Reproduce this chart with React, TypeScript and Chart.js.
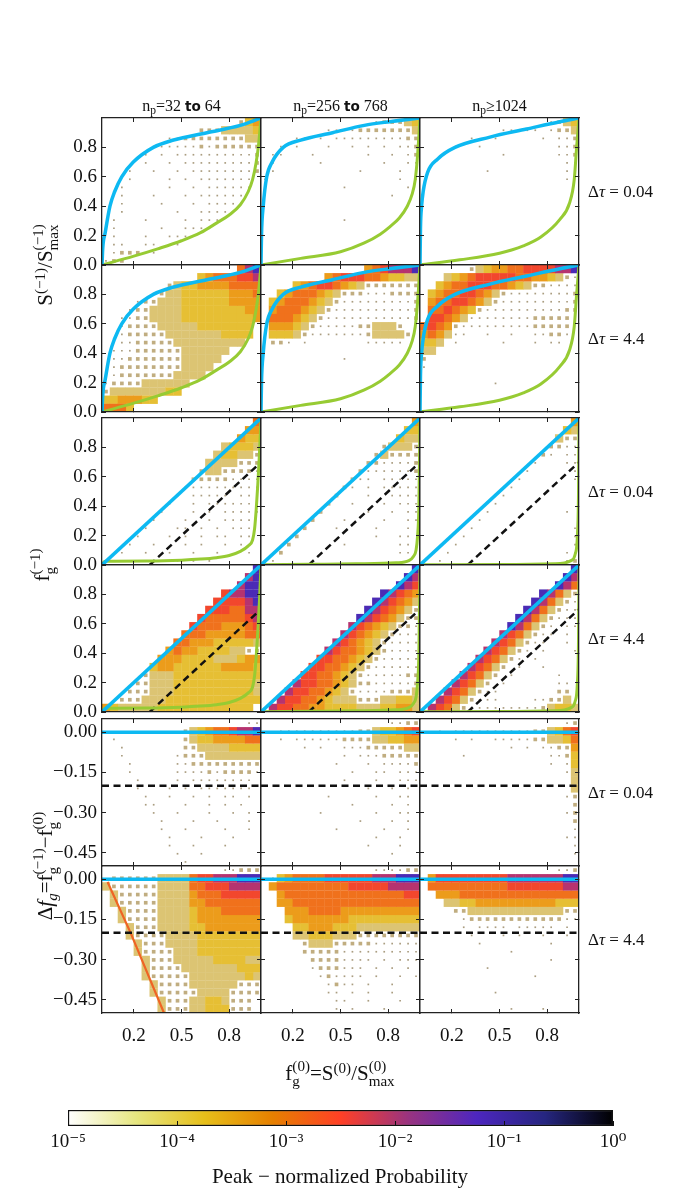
import React, { useEffect, useRef } from "react";
import { Chart, registerables } from "chart.js";

Chart.register(...registerables);

type Pt = [number, number];

// ---------- ticks ----------
const xTicks = [0.2, 0.5, 0.8];
const fracTicks = [0, 0.2, 0.4, 0.6, 0.8];
const dfTicks = [0, -0.15, -0.3, -0.45];
const cbTicks = [1e-5, 1e-4, 1e-3, 1e-2, 1e-1, 1];
const cbLabels = ["10⁻⁵", "10⁻⁴", "10⁻³", "10⁻²", "10⁻¹", "10⁰"];
const dtValues = ["0.04", "4.4"];

// ---------- envelope curves ----------
const blueS32: Pt[] = [[0, 0], [0.005, 0.12], [0.02, 0.22], [0.05, 0.4], [0.08, 0.5], [0.124, 0.6], [0.197, 0.7], [0.323, 0.8], [0.45, 0.85], [0.66, 0.9], [0.87, 0.95], [1, 1]];
const blueS256: Pt[] = [[0, 0], [0.003, 0.2], [0.014, 0.4], [0.036, 0.6], [0.07, 0.7], [0.14, 0.8], [0.25, 0.85], [0.45, 0.9], [0.65, 0.95], [0.81, 0.975], [1, 1]];
const blueS1024: Pt[] = [[0, 0], [0.003, 0.25], [0.01, 0.4], [0.02, 0.5], [0.048, 0.63], [0.11, 0.72], [0.22, 0.8], [0.44, 0.87], [0.67, 0.925], [0.88, 0.975], [1, 1]];
const greenS32: Pt[] = [[0, 0], [0.2, 0.06], [0.35, 0.11], [0.5, 0.165], [0.62, 0.22], [0.72, 0.285], [0.8, 0.34], [0.87, 0.41], [0.92, 0.5], [0.947, 0.58], [0.97, 0.7], [0.985, 0.82], [1, 1]];
const greenS256: Pt[] = [[0, 0], [0.25, 0.045], [0.5, 0.09], [0.65, 0.15], [0.75, 0.21], [0.81, 0.26], [0.87, 0.32], [0.92, 0.4], [0.95, 0.48], [0.97, 0.58], [0.985, 0.75], [1, 1]];
const greenS1024: Pt[] = [[0, 0], [0.25, 0.035], [0.5, 0.08], [0.65, 0.13], [0.76, 0.19], [0.88, 0.31], [0.94, 0.42], [0.97, 0.58], [0.985, 0.8], [1, 1]];
const greenF32: Pt[] = [[0, 0.005], [0.02, 0.025], [0.3, 0.028], [0.5, 0.033], [0.62, 0.04], [0.72, 0.05], [0.8, 0.065], [0.87, 0.093], [0.92, 0.13], [0.947, 0.17], [0.96, 0.25], [0.97, 0.38], [0.98, 0.55], [0.99, 0.75], [1, 1]];
const greenF256: Pt[] = [[0, 0.002], [0.3, 0.005], [0.6, 0.008], [0.85, 0.015], [0.93, 0.03], [0.96, 0.06], [0.975, 0.1], [0.985, 0.2], [0.993, 0.4], [1, 1]];
const greenF1024: Pt[] = [[0, 0.001], [0.5, 0.003], [0.85, 0.008], [0.95, 0.03], [0.975, 0.07], [0.99, 0.2], [0.997, 0.5], [1, 1]];
const diagF: Pt[] = [[0, 0], [1, 1]];
const dashF: Pt[] = [[0.3, 0], [1, 0.7]];
const zeroDf: Pt[] = [[0, 0], [1, 0]];
const cutDf: Pt[] = [[0, -0.2], [1, -0.2]];
// dense ridge along the lower-left edge of the np=32-64, Δτ=4.4 cloud
const ridgeD44_32: Pt[] = [[0.035, -0.01], [0.18, -0.2], [0.39, -0.5]];

// ---------- point density, 20 x-bins by 18 y-bins, top row first ----------
// '.' empty, 1-2 sparse tan dots, 3 dense tan, 4 yellow ... 9 blue-purple
const densS04_32 = [
  "..... ..... ..... ..245",
  "..... ..... ..222 33334",
  "..... ...11 22222 22233",
  "..... .1111 11212 22222",
  "..... 1.1.1 11111 11112",
  "..... 1..1. 11111 11112",
  "...1. .1..1 .1111 11112",
  "...1. ...1. 1.111 1111.",
  "..1.. ...1. .1.11 1111.",
  "..1.. .1... 1.111 111..",
  "..1.. ..1.. .1.11 11...",
  "..1.. ....1 ..111 1....",
  ".1... 1.... 1.111 .....",
  ".1... ..1.. 1111. .....",
  ".1... 1..11 1.... .....",
  ".11.. 11..1 ..... .....",
  ".1222 .1... ..... .....",
  "122.. ..... ..... .....",
];
const densS44_32 = [
  "..... ..... ..... ..689",
  "..... ..... ..456 66778",
  "..... ...23 44555 56666",
  "..... .1233 44444 45556",
  "....1 22333 44444 45555",
  "...12 23333 44444 44455",
  "..112 23333 44444 44445",
  "..122 22333 33444 4444.",
  "..122 22233 33333 4444.",
  "..112 22223 33333 333..",
  ".1112 22222 33333 3....",
  ".1122 22222 33333 .....",
  ".1222 22222 3333. .....",
  ".1222 22223 333.. .....",
  "12222 33333 3.... .....",
  "23333 33344 ..... .....",
  "44555 44... ..... .....",
  "6664. ..... ..... .....",
];
const densS04_256 = [
  "..... ..... ....1 22234",
  "..... ...11 11222 22223",
  "....1 1.1.1 11111 11122",
  "..1.1 ...1. .1.1. 1.112",
  ".11.. .1... ...1. .1.12",
  ".1... ..1.. ..... 1..11",
  ".1... ..... ..1.. ..1.1",
  "1.... ..... ..... ..1.1",
  "..... ..... 1.... ...1.",
  "..... ..... ..... .1...",
  "..... ..... ..... .....",
  "..... ..... ..... .....",
  "..... ..... 1.... .....",
  "..... ..... ..... .....",
  "..... ..... ..... .....",
  "..... ..... ..... .....",
  "..... ..... ..... .....",
  "..... ..... ..... .....",
];
const densS44_256 = [
  "..... ..... ...56 78889",
  "..... ...56 77766 54433",
  "....4 56776 54322 22222",
  "..456 66543 22211 12222",
  ".4566 65432 11111 11112",
  ".5666 54321 11111 11112",
  ".6665 43211 11111 11112",
  ".5554 32111 11223 332..",
  ".4443 21111 11123 3332.",
  ".221. 1.... ...11 111..",
  "..... ..... ..... .....",
  "..... ..... 1.... .....",
  "..... ..... ..... .....",
  "..... ..... ..... .....",
  "..... ..... ..... .....",
  "..... ..... ..... .....",
  "..... ..... ..... .....",
  "..... ..... ..... .....",
];
const densS04_1024 = [
  "..... ..... ..... .1234",
  "..... ..... 11.11 .1223",
  "..... .1..1 ..... 1.112",
  "....1 ..1.. ..... ..112",
  "..... ..... 1.... ..112",
  "..... ..... ..... ...11",
  "..... ...1. ..... ...11",
  "..... ..... ..... ...1.",
  "..... ..... ..... .....",
  "..... ..... ..... .....",
  "..... ..... ..... .....",
  "..... ..... ..... .....",
  "..... ..... ..... .....",
  "..... ..... ..... .....",
  "..... ..... ..... .....",
  "..... ..... ..... .....",
  "..... ..... ..... .....",
  "..... ..... ..... .....",
];
const densS44_1024 = [
  "..... .2345 56677 77889",
  "...34 56777 77665 54321",
  "..456 67776 65432 21111",
  ".4566 77653 21111 11112",
  ".5667 76532 11111 11112",
  ".6676 54211 11111 11122",
  ".7765 31111 11112 22221",
  "67652 11111 11112 2222.",
  "56531 1..1. .1..1 1221.",
  "443.1 ..... 1...1 .11..",
  "33... ..... ..... .....",
  "2.... ..... ..... .....",
  "1.... ..... ..... .....",
  "..... ..... ..... .....",
  "..... ....1 ..... .....",
  "..... ..... ..... .....",
  "..... ..... ..... .....",
  "..... ..... ..... .....",
];
const densF04_32 = [
  "..... ..... ..... ....6",
  "..... ..... ..... ...55",
  "..... ..... ..... ..544",
  "..... ..... ..... 34443",
  "..... ..... ....3 44332",
  "..... ..... ...33 33222",
  "..... ..... ..233 22221",
  "..... ..... .2222 21111",
  "..... ..... 11111 11111",
  "..... ....1 .1111 1.111",
  "..... ...1. .1.11 11111",
  "..... ..1.. .1.1. 11111",
  "..... .1... 1..1. 1111.",
  "..... 1...1 1.1.1 .111.",
  "....1 ...1. 1.1.1 1.11.",
  "...1. .1... 1.1.. 1.11.",
  "..1.. 1..1. .1..1 ...1.",
  ".1.1. 1.1.1 .1.1. .....",
];
const densF44_32 = [
  "..... ..... ..... ....9",
  "..... ..... ..... ...89",
  "..... ..... ..... ..899",
  "..... ..... ..... 78899",
  "..... ..... ....7 77789",
  "..... ..... ...77 76688",
  "..... ..... ..766 66678",
  "..... ..... .7666 55567",
  "..... ..... 66655 55566",
  "..... ....6 65554 44443",
  "..... ...56 55444 43322",
  "..... ..555 44443 33455",
  "..... .4554 44444 55554",
  "..... 23334 44444 44444",
  "....2 23334 44444 44443",
  "...22 23334 44444 44443",
  "..222 33344 44444 44444",
  "54333 33444 44444 4444.",
];
const densF04_256 = [
  "..... ..... ..... ....5",
  "..... ..... ..... ...44",
  "..... ..... ..... ..433",
  "..... ..... ..... 23332",
  "..... ..... ....2 32222",
  "..... ..... ...22 11112",
  "..... ..... ..211 11112",
  "..... ..... .211. 11111",
  "..... ..... 21.1. 11111",
  "..... ....2 ...1. .1111",
  "..... ...2. .1... 1.111",
  "..... ..2.. ...1. .1.11",
  "..... .2... 1.... 1..11",
  "..... 2...1 ....1 ...1.",
  "....2 ..... ....1 ..11.",
  "...2. ..... 1.... ..11.",
  "..2.. ..... ..... ..11.",
  ".1... ..... ..... ...1.",
];
const densF44_256 = [
  "..... ..... ..... ....9",
  "..... ..... ..... ...98",
  "..... ..... ..... ..987",
  "..... ..... ..... 98765",
  "..... ..... ....9 87653",
  "..... ..... ...98 76532",
  "..... ..... ..987 65322",
  "..... ..... .8765 43221",
  "..... ..... 87654 32111",
  "..... ....8 76543 21111",
  "..... ...87 66543 21111",
  "..... ..776 65432 11111",
  "..... .7766 54321 11111",
  "..... 77665 43211 11122",
  "....8 77665 43221 11112",
  "...87 76654 32111 12223",
  "..877 66543 33222 33443",
  ".8776 65544 44333 44553",
];
const densF04_1024 = [
  "..... ..... ..... ....5",
  "..... ..... ..... ...43",
  "..... ..... ..... ..322",
  "..... ..... ..... .2211",
  "..... ..... ..... 21.11",
  "..... ..... ....1 ...11",
  "..... ..... ...1. ....1",
  "..... ..... ..1.. ....1",
  "..... ..... .1... .....",
  "..... ..... 1.... .....",
  "..... ....1 ..... .....",
  "..... ...1. ..... ...1.",
  "..... ..1.. ..... .....",
  "..... .1... ..... ....1",
  "..... 1.... ..... ....1",
  "....1 ..... ..... ....1",
  "...1. ..... ..... ...11",
  "..1.. ..... ..... ...12",
];
const densF44_1024 = [
  "..... ..... ..... ....9",
  "..... ..... ..... ...98",
  "..... ..... ..... ..986",
  "..... ..... ..... 98632",
  "..... ..... ....9 86321",
  "..... ..... ...98 63211",
  "..... ..... ..986 32111",
  "..... ..... .9863 21.11",
  "..... ..... 87632 11.1.",
  "..... ....8 76321 1..1.",
  "..... ...87 6321. 1...1",
  "..... ..876 321.1 .....",
  "..... .8763 2.1.. 1....",
  "..... 87632 .1... ..1..",
  "....8 7632. 1.... ..11.",
  "...87 63211 ..... ..22.",
  "..876 32111 ....1 1223.",
  ".8763 21111 11111 23443",
];
const densD04_32 = [
  "..... ..... ..... ...11",
  "..... ..... 23456 67889",
  ".1... ..... 23445 55566",
  "..1.. ..... 22333 34444",
  "..1.. ....1 22233 33333",
  "...1. ....1 12222 22222",
  "...1. ....1 11121 22221",
  "....1 ....1 .1111 1111.",
  "....1 ...1. 1.111 1111.",
  "..... 1..1. .1.1. 11.1.",
  "..... 11... 1..1. 1.1..",
  "..... .1..1 ...1. .1.1.",
  "..... ..1.. .1..1 ...1.",
  "..... ..1.. 1.... 1..1.",
  "..... ...1. ..1.. .1...",
  "..... ...1. .1... 1....",
  "..... ....1 ..1.. .....",
  "..... ..... 1.... .....",
];
const densD44_32 = [
  "..... ..... ..... 11222",
  ".2222 22333 36778 88999",
  "32222 22333 36677 78888",
  ".3222 22333 35666 77777",
  ".3222 22333 35566 66666",
  "..322 22333 34555 66666",
  "..322 22333 34555 55555",
  "...32 22333 34455 55555",
  "...32 22233 33444 44444",
  "....3 22233 33444 44444",
  "....3 22223 33444 44444",
  "..... 32223 33334 44433",
  "..... 32222 33333 33444",
  "..... 32222 23333 33343",
  "..... .3222 23333 33222",
  "..... .3222 22333 32222",
  "..... ..322 23344 3222.",
  "..... ..322 23344 4222.",
];
const densD04_256 = [
  "..... ..... ..... .1122",
  "..111 11111 11223 44567",
  "..1.1 11111 22223 34455",
  "..... 1.1.. 11122 22233",
  "..... ..... 1.111 22222",
  "..... ....1 ...1. 11112",
  "..... ..... .1..1 1.111",
  "..... ..... 1...1 ..111",
  "..... ..... ...1. .1.1.",
  "..... ...1. ....1 ..11.",
  "..... ..... .1... .1.1.",
  "..... ..1.. ....1 ..11.",
  "..... ..... ..1.. .1.1.",
  "..... ....1 ..... 1..1.",
  "..... ..... ....1 ..1..",
  "..... ..... ...1. ..1..",
  "..... ..... ..... .1...",
  "..... ..... ..... .....",
];
const densD44_256 = [
  "..... ..... ....1 11122",
  ".1456 66677 77778 88999",
  ".5666 66666 67777 78888",
  "..566 66666 66666 66677",
  "..556 66666 66666 66666",
  "...55 56666 55555 55555",
  "...45 55555 54444 44444",
  "....4 45554 44333 33333",
  "....3 34443 33222 22222",
  "..... 23332 22221 11111",
  "..... 22222 11111 11111",
  "..... .2222 1111. 1.111",
  "..... .1222 111.1 .1.1.",
  "..... ..121 111.1 ..1.1",
  "..... ...12 11.1. .1...",
  "..... ...11 .1.1. .1...",
  "..... ....1 1..1. ..1..",
  "..... ....1 .1... 1....",
];
const densD04_1024 = [
  "..... ..... ..... ...12",
  "..1.1 11111 11112 23467",
  "....1 .1..1 11112 23346",
  "..... ..... .1.1. 11225",
  "..... 1.... ..... .1124",
  "..... ..... ..... .1.14",
  "..... ..... ..... ...13",
  "..... ..... ..... ....3",
  "..... ..... ..... ....3",
  "..... ..... ..... ...12",
  "..... ..... ..... ....2",
  "..... ..... ..... ...12",
  "..... ..... ..... ....2",
  "..... ..... ..... ....1",
  "..... ..... ..... ...11",
  "..... ..... ..... ....1",
  "..... ..... ..... ....1",
  "..... ..... ..... .....",
];
const densD44_1024 = [
  "..... ..... ..... ..112",
  ".5777 77777 78888 88899",
  ".6666 66666 67777 77788",
  "..555 66666 66666 66666",
  "...33 44555 55555 55444",
  "....2 23333 33333 33322",
  "..... 12222 22222 22211",
  "..... 1.111 1.111 11.1.",
  "..... .1... 1.1.. 1..1.",
  "..... ..1.. ..... .1...",
  "..... ..... .1... .....",
  "..... ..... ..... .1...",
  "..... ...1. ..... .....",
  "..... ..... ....1 .....",
  "..... ..... ..... .....",
  "..... ....1 ..... .....",
  "..... ..... ..... .....",
  "..... ..... .1... 1....",
];

// ---------- styling ----------
const SERIF = "'Liberation Serif', 'DejaVu Serif', serif";
const BLUE = "#0DB9F2";
const GREEN = "#97CB33";
const levelColor = ["", "#aa9d80", "#c0ad80", "#dcc473", "#e6bf34", "#ec9c1b", "#f0711c", "#f2472d", "#b6336f", "#4b2bb5"];
const levelRadius = [0, 1.2, 2.6, 5.9, 5.9, 5.9, 5.9, 5.9, 5.9, 5.9];
const cmapStops: [number, string][] = [
  [0, "#ffffff"], [0.125, "#e6e680"], [0.25, "#e6bf1a"], [0.375, "#e68000"], [0.5, "#ff4026"],
  [0.625, "#993380"], [0.75, "#4d26bf"], [0.875, "#262680"], [1, "#000000"],
];

const colLeft = [102, 261, 420];
const rowTop = [118, 265, 418, 565, 719, 866];
const PW = 159;
const PH = 147;
const MARGIN = { left: 60, right: 12, top: 12, bottom: 45 };
const TICK_SIZE = 19;

const blueS = [blueS32, blueS256, blueS1024];
const greenS = [greenS32, greenS256, greenS1024];
const greenF = [greenF32, greenF256, greenF1024];
const densByRow = [
  [densS04_32, densS04_256, densS04_1024],
  [densS44_32, densS44_256, densS44_1024],
  [densF04_32, densF04_256, densF04_1024],
  [densF44_32, densF44_256, densF44_1024],
  [densD04_32, densD04_256, densD04_1024],
  [densD44_32, densD44_256, densD44_1024],
];

interface LineSpec { pts: Pt[]; color: string; width: number; dash?: number[]; smooth?: boolean }
interface PanelSpec { row: number; col: number; grid: string[]; lines: LineSpec[]; yMin: number; yMax: number; yTicks: number[]; df: boolean }

const panels: PanelSpec[] = densByRow.flatMap((grids, row) =>
  grids.map((grid, col) => {
    const kind = row < 2 ? "S" : row < 4 ? "F" : "D";
    const dashed = { color: "#111", width: 2.5, dash: [7, 4.5] };
    let lines: LineSpec[] =
      kind === "S"
        ? [{ pts: blueS[col], color: BLUE, width: 3.5, smooth: true }, { pts: greenS[col], color: GREEN, width: 3, smooth: true }]
        : kind === "F"
        ? [{ pts: diagF, color: BLUE, width: 3.5 }, { pts: greenF[col], color: GREEN, width: 3, smooth: true }, { pts: dashF, ...dashed }]
        : [{ pts: zeroDf, color: BLUE, width: 3.5 }, { pts: cutDf, ...dashed }];
    if (row === 5 && col === 0) lines = [...lines, { pts: ridgeD44_32, color: "#ef6424", width: 2.2 }];
    return {
      row, col, grid, lines,
      yMin: kind === "D" ? -0.5 : 0,
      yMax: kind === "D" ? 0.05 : 1,
      yTicks: kind === "D" ? dfTicks : fracTicks,
      df: kind === "D",
    };
  })
);

// axis whose box fills the margin on its side, so its labels are not clipped
function axis(position: string, min: number, max: number, ticks: number[], fmt: (v: number) => string, show: boolean, pad: number, size: number) {
  const horizontal = position === "top" || position === "bottom";
  return {
    type: "linear",
    position,
    min,
    max,
    bounds: "data",
    afterBuildTicks: (s: any) => {
      s.ticks = ticks.map((v) => ({ value: v }));
    },
    afterFit: (s: any) => {
      if (horizontal) {
        s.height = size;
        s.paddingLeft = 0;
        s.paddingRight = 0;
      } else {
        s.width = size;
        s.paddingTop = 0;
        s.paddingBottom = 0;
      }
    },
    grid: { display: true, drawOnChartArea: false, drawTicks: true, tickLength: -4, tickWidth: 1, tickColor: "#222", z: 1 },
    border: { display: true, color: "#222", width: 1.3, z: 2 },
    ticks: {
      display: show,
      autoSkip: false,
      maxRotation: 0,
      padding: pad,
      color: "#111",
      font: { family: SERIF, size: TICK_SIZE },
      callback: (v: any) => fmt(Number(v)),
    },
  };
}

const fmt1 = (v: number) => v.toFixed(1);
const fmtDf = (v: number) => (v === 0 ? "0.00" : "−" + Math.abs(v).toFixed(2));

function buildDatasets(p: PanelSpec) {
  const rows = p.grid.map((r) => r.replace(/ /g, ""));
  const nR = rows.length;
  const nC = rows[0].length;
  const cw = 1 / nC;
  const ch = (p.yMax - p.yMin) / nR;
  const byLevel: { x: number; y: number }[][] = levelColor.map(() => []);
  rows.forEach((r, j) => {
    for (let i = 0; i < r.length; i++) {
      const c = r[i];
      if (c === ".") continue;
      byLevel[Number(c)].push({ x: (i + 0.5) * cw, y: p.yMax - (j + 0.5) * ch });
    }
  });
  const cells: any[] = [];
  byLevel.forEach((pts, lv) => {
    if (lv === 0 || pts.length === 0) return;
    cells.push({
      data: pts,
      xAxisID: "x",
      yAxisID: "y",
      pointStyle: "rect",
      pointRadius: levelRadius[lv],
      pointBackgroundColor: levelColor[lv],
      pointBorderWidth: 0,
      showLine: false,
      order: 20 - lv,
      clip: 0,
    });
  });
  const lines = p.lines.map((l, k) => ({
    data: l.pts.map(([x, y]) => ({ x, y })),
    xAxisID: "x",
    yAxisID: "y",
    showLine: true,
    pointRadius: 0,
    borderColor: l.color,
    borderWidth: l.width,
    borderDash: l.dash || [],
    cubicInterpolationMode: l.smooth ? "monotone" : "default",
    fill: false,
    order: 1 + k,
    clip: 0,
  }));
  return [...lines, ...cells];
}

function Panel({ spec }: { spec: PanelSpec }) {
  const canvasRef = useRef<HTMLCanvasElement | null>(null);
  const W = MARGIN.left + PW + MARGIN.right;
  const H = MARGIN.top + PH + MARGIN.bottom;

  useEffect(() => {
    if (!canvasRef.current) return;
    const yFmt = spec.df ? fmtDf : fmt1;
    const chart = new Chart(canvasRef.current, {
      type: "scatter",
      data: { datasets: buildDatasets(spec) as any },
      options: {
        animation: false,
        responsive: false,
        events: [],
        layout: { padding: 0 },
        plugins: { legend: { display: false }, tooltip: { enabled: false } },
        scales: {
          x: axis("bottom", 0, 1, xTicks, fmt1, spec.row === 5, 16, MARGIN.bottom),
          y: axis("left", spec.yMin, spec.yMax, spec.yTicks, yFmt, spec.col === 0, 9, MARGIN.left),
          x2: axis("top", 0, 1, xTicks, fmt1, false, 0, MARGIN.top),
          y2: axis("right", spec.yMin, spec.yMax, spec.yTicks, yFmt, false, 0, MARGIN.right),
        } as any,
      },
    });
    return () => chart.destroy();
  }, [spec]);

  return (
    <canvas
      ref={canvasRef}
      width={W}
      height={H}
      style={{ position: "absolute", left: colLeft[spec.col] - MARGIN.left, top: rowTop[spec.row] - MARGIN.top, width: W, height: H }}
    />
  );
}

function Colorbar() {
  const canvasRef = useRef<HTMLCanvasElement | null>(null);
  const side = 30;
  const top = 10;
  const bottom = 40;
  const W = 545 + 2 * side;
  const H = 16 + top + bottom;

  useEffect(() => {
    if (!canvasRef.current) return;
    const chart = new Chart(canvasRef.current, {
      type: "bar",
      data: {
        labels: [""],
        datasets: [
          {
            data: [[cbTicks[0], cbTicks[cbTicks.length - 1]]] as any,
            backgroundColor: (ctx: any) => {
              const area = ctx.chart.chartArea;
              if (!area) return "#fff";
              const g = ctx.chart.ctx.createLinearGradient(area.left, 0, area.right, 0);
              cmapStops.forEach(([p, c]) => g.addColorStop(p, c));
              return g;
            },
            borderColor: "#111",
            borderWidth: 1.5,
            borderSkipped: false,
            barPercentage: 1,
            categoryPercentage: 1,
          },
        ],
      },
      options: {
        indexAxis: "y",
        animation: false,
        responsive: false,
        events: [],
        layout: { padding: { left: side, right: side, top, bottom: 0 } },
        plugins: { legend: { display: false }, tooltip: { enabled: false } },
        scales: {
          x: {
            type: "logarithmic",
            position: "bottom",
            min: cbTicks[0],
            max: cbTicks[cbTicks.length - 1],
            afterBuildTicks: (s: any) => {
              s.ticks = cbTicks.map((v) => ({ value: v }));
            },
            afterFit: (s: any) => {
              s.height = bottom;
              s.paddingLeft = 0;
              s.paddingRight = 0;
            },
            grid: { display: true, drawOnChartArea: false, drawTicks: true, tickLength: -5, tickColor: "#111", tickWidth: 1, z: 1 },
            border: { display: false },
            ticks: {
              autoSkip: false,
              maxRotation: 0,
              padding: 10,
              color: "#111",
              font: { family: SERIF, size: 19 },
              callback: (_v: any, i: number) => cbLabels[i],
            },
          },
          y: { display: false },
        } as any,
      },
    });
    return () => chart.destroy();
  }, []);

  return (
    <canvas
      ref={canvasRef}
      width={W}
      height={H}
      style={{ position: "absolute", left: 68 - side, top: 1110 - top, width: W, height: H }}
    />
  );
}

// ---------- text helpers ----------
const Sub = ({ children }: any) => (
  <span style={{ fontSize: "0.72em", position: "relative", top: "0.3em" }}>{children}</span>
);
const Sup = ({ children }: any) => (
  <span style={{ fontSize: "0.72em", position: "relative", top: "-0.45em" }}>{children}</span>
);
const SupSub = ({ sup, sub }: any) => (
  <span
    style={{
      display: "inline-flex",
      flexDirection: "column",
      fontSize: "0.72em",
      lineHeight: 1,
      verticalAlign: "middle",
      position: "relative",
      top: "-0.05em",
      textAlign: "left",
    }}
  >
    <span>{sup}</span>
    <span>{sub}</span>
  </span>
);
const Bold = ({ children }: any) => (
  <span style={{ fontFamily: "'DejaVu Sans', sans-serif", fontWeight: "bold", fontSize: "0.85em" }}>{children}</span>
);

const Label = ({ cx, cy, size = 17, rotate = false, children }: any) => (
  <div
    style={{
      position: "absolute",
      left: cx - 160,
      top: cy - 18,
      width: 320,
      height: 36,
      lineHeight: "36px",
      textAlign: "center",
      fontSize: size,
      whiteSpace: "nowrap",
      transform: rotate ? "rotate(-90deg)" : undefined,
      transformOrigin: "50% 50%",
    }}
  >
    {children}
  </div>
);

const colTitles = [
  <>n<Sub>p</Sub>=32 <Bold>to</Bold> 64</>,
  <>n<Sub>p</Sub>=256 <Bold>to</Bold> 768</>,
  <>n<Sub>p</Sub>≥1024</>,
];

export default function App() {
  return (
    <div
      style={{
        position: "absolute",
        left: 0,
        top: 0,
        width: 681,
        height: 1192,
        background: "#fff",
        overflow: "hidden",
        fontFamily: SERIF,
        color: "#111",
      }}
    >
      {panels.map((p) => (
        <Panel key={`${p.row}-${p.col}`} spec={p} />
      ))}
      <Colorbar />

      {colTitles.map((t, i) => (
        <Label key={i} cx={colLeft[i] + PW / 2} cy={106} size={16}>
          {t}
        </Label>
      ))}

      {rowTop.map((top, r) => (
        <div
          key={r}
          style={{ position: "absolute", left: 588, top: top + PH / 2 - 12, height: 24, lineHeight: "24px", fontSize: 17, whiteSpace: "nowrap" }}
        >
          Δ<i>τ</i> = {dtValues[r % 2]}
        </div>
      ))}

      <Label cx={45} cy={265} size={21} rotate>
        S<Sup>(−1)</Sup>/S<SupSub sup="(−1)" sub="max" />
      </Label>
      <Label cx={42} cy={565} size={21} rotate>
        f<SupSub sup="(−1)" sub="g" />
      </Label>
      <Label cx={45} cy={866} size={21} rotate>
        Δ<i>f</i>
        <Sub>
          <i>g</i>
        </Sub>
        =f<SupSub sup="(−1)" sub="g" />−f<SupSub sup="(0)" sub="g" />
      </Label>
      <Label cx={340} cy={1073} size={21}>
        f<SupSub sup="(0)" sub="g" />=S<Sup>(0)</Sup>/S<SupSub sup="(0)" sub="max" />
      </Label>
      <Label cx={340} cy={1176} size={21}>
        Peak − normalized Probability
      </Label>
    </div>
  );
}
